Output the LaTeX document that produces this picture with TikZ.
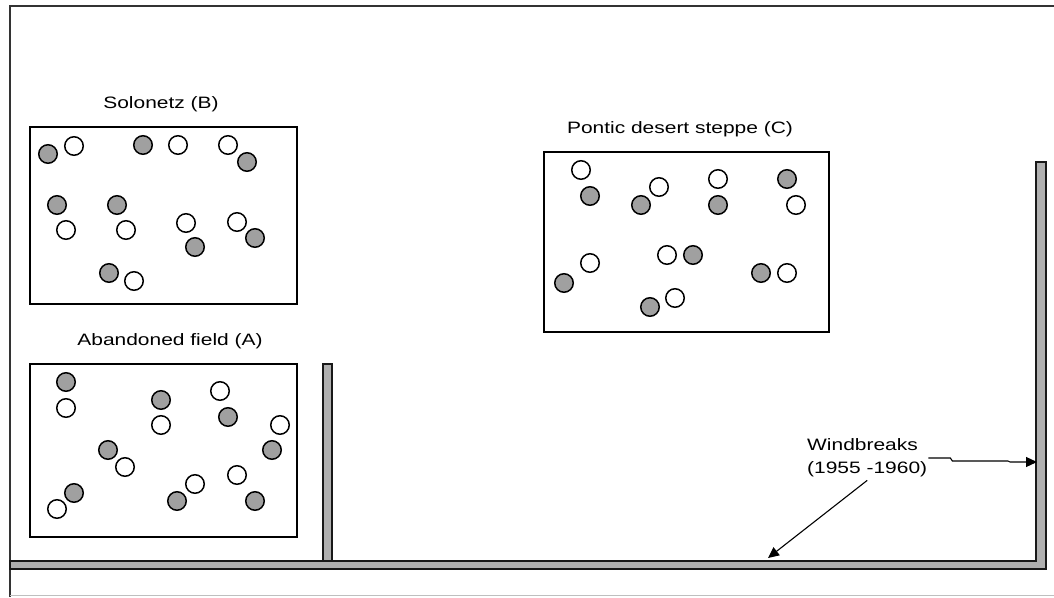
\documentclass[tikz,border=0pt]{standalone}
\usepackage{fontspec}
\usetikzlibrary{arrows.meta}
\setmainfont{Liberation Sans}
\newcommand{\widetxt}[1]{\scalebox{1.27}[1]{#1}}
\definecolor{dotgray}{HTML}{A0A0A0}
\definecolor{bargray}{HTML}{B0B0B0}
\begin{document}
\begin{tikzpicture}[x=1pt,y=-1pt,
  gc/.style={circle,draw=black,fill=dotgray,line width=1.5pt,minimum size=18.5pt,inner sep=0pt},
  wc/.style={circle,draw=black,fill=white,line width=1.5pt,minimum size=18.5pt,inner sep=0pt},
  plot/.style={draw=black,line width=1.4pt,fill=white},
  title/.style={font=\fontsize{16.5}{19}\selectfont,inner sep=0pt},
  bar/.style={draw=black!90,line width=1.5pt,fill=bargray},
  lead/.style={draw=black,line width=1.1pt,-{Triangle[length=11pt,width=10pt]}}]
\useasboundingbox (0,0) rectangle (1054,597);
% frame
\draw[black!80,line width=1.8pt] (10,597) -- (10,6) -- (1054,6);
\draw[black!25,line width=1pt] (10,595.5) -- (1054,595.5);
% windbreaks
\path[bar] (10,561) -- (1036,561) -- (1036,162) -- (1046,162) -- (1046,569) -- (10,569) -- cycle;
\path[bar] (323,364) rectangle (332,561);
% plots
\draw[plot] (30,127) rectangle (297,304);
\draw[plot] (30,364) rectangle (297,537);
\draw[plot] (544,152) rectangle (829,332);
\node[title] (tb) at (161,104) {\widetxt{Solonetz (B)}};
\node[title] (ta) at (170,341) {\widetxt{Abandoned field (A)}};
\node[title] (tc) at (680,129) {\widetxt{Pontic desert steppe (C)}};
% B
\foreach \x/\y [count=\i] in {48/154,143/145,247/162,57/205,117/205,195/247,255/238,109/273}
  \node[gc] (bg\i) at (\x,\y) {};
\foreach \x/\y [count=\i] in {74/146,178/145,228/145,66/230,126/230,186/223,237/222,134/281}
  \node[wc] (bw\i) at (\x,\y) {};
% A
\foreach \x/\y [count=\i] in {66/382,161/400,228/417,272/450,108/450,74/493,177/501,255/501}
  \node[gc] (ag\i) at (\x,\y) {};
\foreach \x/\y [count=\i] in {66/408,161/425,220/391,280/425,125/467,57/509,195/484,237/475}
  \node[wc] (aw\i) at (\x,\y) {};
% C
\foreach \x/\y [count=\i] in {590/196,641/205,718/205,787/179,564/283,693/255,761/273,650/307}
  \node[gc] (cg\i) at (\x,\y) {};
\foreach \x/\y [count=\i] in {581/170,659/187,718/179,796/205,590/263,667/255,787/273,675/298}
  \node[wc] (cw\i) at (\x,\y) {};
% label
\node[font=\fontsize{16.5}{23}\selectfont,align=left,inner sep=1pt,anchor=west] (wl) at (806,458) {\widetxt{Windbreaks}\\\widetxt{(1955 -1960)}};
\coordinate (wr) at (1037,462);
\coordinate (wb) at (768,558);
\draw[lead] (wl.east) -- ++(22,0) -- ++(2,3) -- (1008,461) -- (1010,462) -- (wr);
\draw[lead] ([yshift=-2pt]wl.south) -- (wb);
\end{tikzpicture}
\end{document}
